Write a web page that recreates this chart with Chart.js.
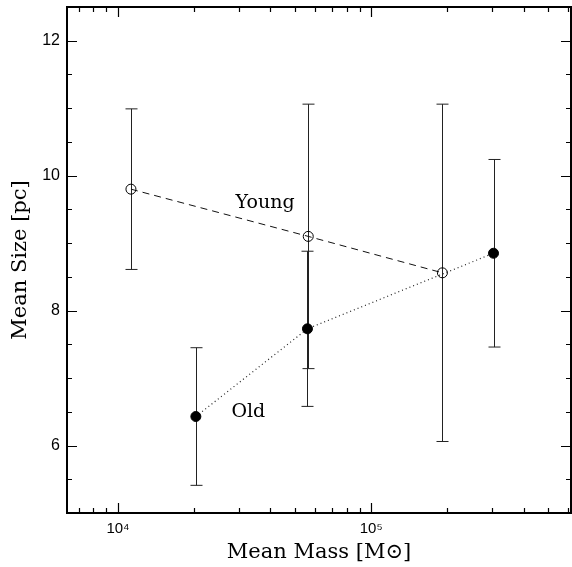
<!DOCTYPE html>
<html lang="en">
<head>
    <meta charset="UTF-8">
    <title>Mean Size vs Mean Mass</title>
    <script src="https://cdn.jsdelivr.net/npm/chart.js"></script>
    <style>
        html, body { margin: 0; padding: 0; background: #fff; }
        #wrap { width: 572px; height: 567px; position: relative; }
    </style>
</head>
<body>
    <div id="wrap"><canvas id="sizeChart"></canvas></div>

    <script>
        // young clusters (open circles)
        const youngMass = [11250, 56400, 191000];
        const youngSize = [9.80, 9.10, 8.56];
        const youngErr = [1.19, 1.96, 2.50];

        // old clusters (filled circles)
        const oldMass = [20300, 56000, 304000];
        const oldSize = [6.43, 7.73, 8.85];
        const oldErr = [1.02, 1.15, 1.39];

        // axes
        const xMajorTicks = [1e4, 1e5];
        const xTickLabels = ['10⁴', '10⁵'];
        const yMajorTicks = [6, 8, 10, 12];

        // text labels next to the curves
        const seriesLabels = ['Young', 'Old'];
        const labelMass = [38100, 32700];
        const labelSize = [9.60, 6.49];

        const X_MIN = 6290, X_MAX = 615000;
        const Y_MIN = 5, Y_MAX = 12.5;

        const errorBars = {
            id: 'errorBars',
            beforeDatasetsDraw(chart) {
                const ctx = chart.ctx;
                const x = chart.scales.x, y = chart.scales.y;
                const sets = [[youngMass, youngSize, youngErr], [oldMass, oldSize, oldErr]];
                ctx.save();
                ctx.strokeStyle = '#222';
                ctx.lineWidth = 1;
                sets.forEach(([ms, ss, es]) => {
                    ms.forEach((m, i) => {
                        const px = Math.round(x.getPixelForValue(m)) + 0.5;
                        const top = y.getPixelForValue(ss[i] + es[i]);
                        const bot = y.getPixelForValue(ss[i] - es[i]);
                        ctx.beginPath();
                        ctx.moveTo(px, top); ctx.lineTo(px, bot);
                        ctx.moveTo(px - 6, top); ctx.lineTo(px + 6, top);
                        ctx.moveTo(px - 6, bot); ctx.lineTo(px + 6, bot);
                        ctx.stroke();
                    });
                });
                ctx.restore();
            }
        };

        const frameAndTicks = {
            id: 'frameAndTicks',
            afterDraw(chart) {
                const ctx = chart.ctx;
                const a = chart.chartArea;
                const x = chart.scales.x, y = chart.scales.y;
                ctx.save();
                ctx.strokeStyle = '#000';
                ctx.lineWidth = 1.2;
                ctx.beginPath();
                // y ticks every 0.5, major at the labelled values
                for (let v = Y_MIN + 0.5; v < Y_MAX; v += 0.5) {
                    const len = yMajorTicks.includes(v) ? 10 : 5;
                    const py = Math.round(y.getPixelForValue(v)) + 0.5;
                    ctx.moveTo(a.left, py); ctx.lineTo(a.left + len, py);
                    ctx.moveTo(a.right, py); ctx.lineTo(a.right - len, py);
                }
                // x log ticks
                [1e3, 1e4, 1e5].forEach(dec => {
                    for (let k = 1; k <= 9; k++) {
                        const v = k * dec;
                        if (v <= X_MIN || v >= X_MAX) continue;
                        const len = k === 1 ? 10 : 5;
                        const px = Math.round(x.getPixelForValue(v)) + 0.5;
                        ctx.moveTo(px, a.bottom); ctx.lineTo(px, a.bottom - len);
                        ctx.moveTo(px, a.top); ctx.lineTo(px, a.top + len);
                    }
                });
                ctx.stroke();

                ctx.lineWidth = 2;
                ctx.strokeRect(a.left, a.top, a.right - a.left, a.bottom - a.top);

                // curve labels
                ctx.fillStyle = '#000';
                ctx.font = '19px "DejaVu Serif"';
                ctx.textAlign = 'center';
                ctx.textBaseline = 'middle';
                seriesLabels.forEach((t, i) => {
                    ctx.fillText(t, x.getPixelForValue(labelMass[i]), y.getPixelForValue(labelSize[i]));
                });
                ctx.restore();
            }
        };

        const ctx = document.getElementById('sizeChart').getContext('2d');
        new Chart(ctx, {
            type: 'line',
            data: {
                datasets: [{
                    label: 'Young',
                    data: youngMass.map((m, i) => ({ x: m, y: youngSize[i] })),
                    borderColor: '#111',
                    borderWidth: 1,
                    borderDash: [7, 5],
                    pointRadius: 5,
                    pointBorderWidth: 1,
                    pointBorderColor: '#000',
                    pointBackgroundColor: 'rgba(0,0,0,0)',
                    fill: false
                }, {
                    label: 'Old',
                    data: oldMass.map((m, i) => ({ x: m, y: oldSize[i] })),
                    borderColor: '#222',
                    borderWidth: 1.2,
                    borderDash: [1, 3],
                    pointRadius: 5,
                    pointBorderWidth: 1,
                    pointBorderColor: '#000',
                    pointBackgroundColor: '#000',
                    fill: false
                }]
            },
            options: {
                responsive: true,
                maintainAspectRatio: false,
                animation: false,
                devicePixelRatio: 1,
                layout: { autoPadding: false, padding: { top: 7, right: 1, left: 0, bottom: 0 } },
                plugins: { legend: { display: false }, tooltip: { enabled: false } },
                scales: {
                    x: {
                        type: 'logarithmic',
                        min: X_MIN,
                        max: X_MAX,
                        grid: { display: false, drawTicks: false },
                        border: { display: false },
                        afterBuildTicks: s => { s.ticks = xMajorTicks.map(v => ({ value: v })); },
                        afterFit: s => {
                            s.height = 54;
                            s.paddingLeft = 0; s.paddingRight = 0;
                        },
                        ticks: {
                            autoSkip: false,
                            maxRotation: 0,
                            padding: 7,
                            color: '#000',
                            font: { family: '"Liberation Sans", Arial', size: 15 },
                            callback: (v, i) => xTickLabels[i]
                        },
                        title: {
                            display: true,
                            text: 'Mean Mass [M⊙]',
                            color: '#000',
                            font: { family: '"DejaVu Serif"', size: 21 },
                            padding: { top: 0, bottom: 2 }
                        }
                    },
                    y: {
                        min: Y_MIN,
                        max: Y_MAX,
                        grid: { display: false, drawTicks: false },
                        border: { display: false },
                        afterBuildTicks: s => { s.ticks = yMajorTicks.map(v => ({ value: v })); },
                        afterFit: s => {
                            s.width = 67;
                            s.paddingTop = 0; s.paddingBottom = 0;
                        },
                        ticks: {
                            padding: 7,
                            color: '#000',
                            font: { family: '"Liberation Sans", Arial', size: 16 }
                        },
                        title: {
                            display: true,
                            text: 'Mean Size [pc]',
                            color: '#000',
                            font: { family: '"DejaVu Serif"', size: 21 },
                            padding: { top: 8, bottom: 0 }
                        }
                    }
                }
            },
            plugins: [errorBars, frameAndTicks]
        });
    </script>
</body>
</html>
